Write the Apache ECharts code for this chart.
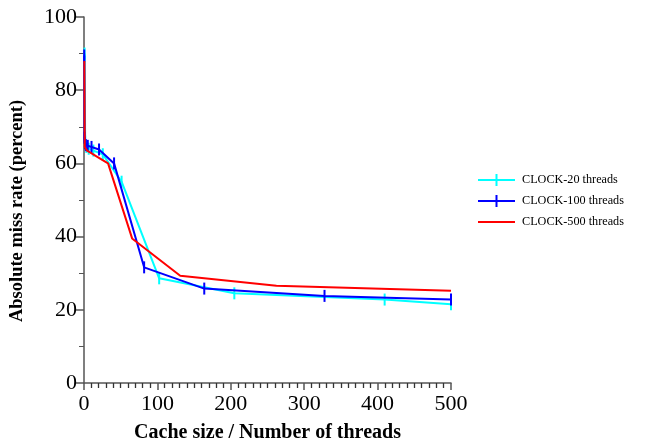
<!DOCTYPE html>
<html>
<head>
<meta charset="utf-8">
<script src="https://cdn.jsdelivr.net/npm/echarts@6/dist/echarts.min.js"></script>
<style>html,body{margin:0;padding:0;background:#fff;}#c{width:652px;height:446px;}</style>
</head>
<body>
<div id="c"></div>
<script>
const xTicks = [0, 100, 200, 300, 400, 500];
const yTicks = [0, 20, 40, 60, 80, 100];
const seriesNames = ['CLOCK-20 threads', 'CLOCK-100 threads', 'CLOCK-500 threads'];

const x20 = [0.8, 1.6, 3.2, 6.4, 12.8, 25.6, 51.2, 102.4, 204.8, 409.6, 500];
const y20 = [90, 66, 64.5, 64, 63.5, 62.5, 55, 28.6, 24.5, 22.8, 21.5];

const x100 = [0.32, 0.64, 1.28, 2.56, 5.12, 10.24, 20.48, 40.96, 81.92, 163.84, 327.68, 500];
const y100 = [89.5, 67, 65.5, 65, 64.8, 64.5, 63.8, 60, 31.6, 25.8, 23.8, 22.8];

const x500 = [0.512, 1.024, 2.048, 4.096, 8.192, 16.384, 32.768, 65.536, 131.072, 262.144, 500];
const y500 = [88, 64.5, 64, 63.5, 63, 62, 60, 39.5, 29.3, 26.6, 25.2];

function pairs(xs, ys) { return xs.map((x, i) => [x, ys[i]]); }

const chart = echarts.init(document.getElementById('c'), null, {renderer: 'canvas'});
const font = '"Liberation Serif", "Times New Roman", serif';
const axisColor = '#555';
const tickPath = 'path://M0,0 L1,0 L1,10 L0,10 Z';
const iconTick = 'path://M0,5 L37,5 L37,7 L0,7 Z M17.5,0 L19.5,0 L19.5,12 L17.5,12 Z';
const iconLine = 'path://M0,5 L37,5 L37,7 L0,7 Z M0,0 L0.01,0 L0.01,0.01 Z M36.99,11.99 L37,11.99 L37,12 L36.99,12 Z';

chart.setOption({
  animation: false,
  backgroundColor: '#fff',
  grid: {left: 84, right: 201, top: 17, bottom: 63, containLabel: false, outerBoundsMode: 'none'},
  legend: {
    orient: 'vertical',
    left: 473,
    top: 169,
    itemWidth: 37,
    itemHeight: 12,
    itemGap: 9,
    textStyle: {fontFamily: font, fontSize: 12.2, color: '#000', padding: [0, 0, 0, 2]},
    data: [
      {name: seriesNames[0], icon: iconTick},
      {name: seriesNames[1], icon: iconTick},
      {name: seriesNames[2], icon: iconLine}
    ]
  },
  xAxis: {
    type: 'value',
    min: 0, max: 500, interval: 100,
    name: 'Cache size / Number of threads',
    nameLocation: 'middle',
    nameGap: 40,
    nameTextStyle: {fontFamily: font, fontSize: 20, fontWeight: 'bold', color: '#000'},
    axisLine: {show: true, onZero: false, lineStyle: {color: axisColor, width: 1.5}},
    axisTick: {show: true, inside: false, length: 7, lineStyle: {color: axisColor, width: 1.5}},
    minorTick: {show: true, splitNumber: 10, length: 5, lineStyle: {color: '#333', width: 1.3}},
    axisLabel: {margin: 10, fontFamily: font, fontSize: 22, color: '#000',
      formatter: v => xTicks.includes(v) ? String(v) : ''},
    splitLine: {show: false}
  },
  yAxis: {
    type: 'value',
    min: 0, max: 100, interval: 20,
    name: 'Absolute miss rate (percent)',
    nameLocation: 'middle',
    nameGap: 57,
    nameTextStyle: {fontFamily: font, fontSize: 18.5, fontWeight: 'bold', color: '#000', padding: [0, 22, 0, 0]},
    axisLine: {show: true, lineStyle: {color: axisColor, width: 1.5}},
    axisTick: {show: true, inside: false, length: 8, lineStyle: {color: axisColor, width: 1.5}},
    minorTick: {show: true, splitNumber: 2, length: 5, lineStyle: {color: axisColor, width: 1}},
    axisLabel: {margin: 7, fontFamily: font, fontSize: 22, color: '#000',
      formatter: v => yTicks.includes(v) ? String(v) : ''},
    splitLine: {show: false}
  },
  series: [
    {
      name: seriesNames[0], type: 'line', data: pairs(x20, y20),
      color: '#00ffff',
      lineStyle: {width: 2, color: '#00ffff'},
      symbol: tickPath, symbolSize: [2, 12], showSymbol: true,
      itemStyle: {color: '#00ffff'}, z: 2
    },
    {
      name: seriesNames[1], type: 'line', data: pairs(x100, y100),
      color: '#0000ff',
      lineStyle: {width: 2, color: '#0000ff'},
      symbol: tickPath, symbolSize: [2, 12], showSymbol: true,
      itemStyle: {color: '#0000ff'}, z: 3
    },
    {
      name: seriesNames[2], type: 'line', data: pairs(x500, y500),
      color: '#ff0000',
      lineStyle: {width: 2, color: '#ff0000'},
      symbol: 'none', showSymbol: false,
      itemStyle: {color: '#ff0000'}, z: 4
    }
  ]
});
</script>
</body>
</html>
